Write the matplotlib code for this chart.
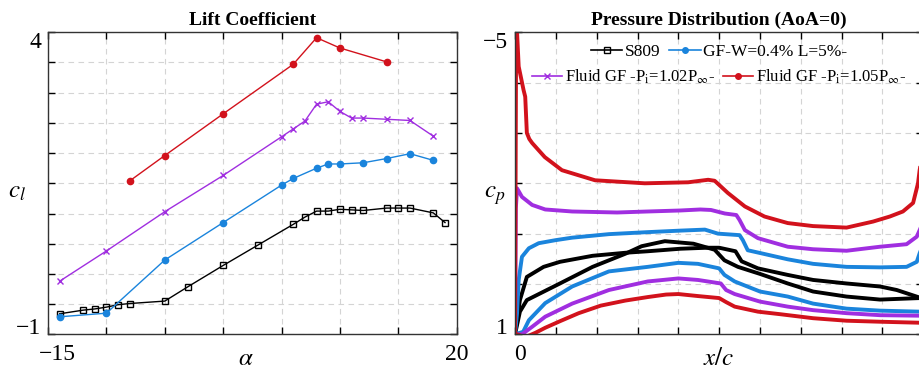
import numpy as np
import matplotlib
matplotlib.use("Agg")
import matplotlib.pyplot as plt
from matplotlib.lines import Line2D
from matplotlib.transforms import ScaledTranslation

plt.rcParams['font.family'] = ['Liberation Serif', 'DejaVu Serif']
plt.rcParams['mathtext.fontset'] = 'stix'

# colours
C_S809 = 'black'
C_GFW = '#1a84dc'
C_P102 = '#a02ee0'
C_P105 = '#d2121c'

# ---- lift coefficient data ----
alpha_s809 = [-14, -12, -11, -10, -9, -8, -5, -3, 0, 3, 6, 7, 8, 9, 10, 11, 12, 14, 15, 16, 18, 19]
cl_s809 = [-0.66, -0.60, -0.58, -0.55, -0.51, -0.49, -0.45, -0.21, 0.14, 0.48, 0.82, 0.94,
           1.04, 1.04, 1.07, 1.06, 1.05, 1.09, 1.09, 1.09, 1.01, 0.85]

alpha_gfw = [-14, -10, -5, 0, 5, 6, 8, 9, 10, 12, 14, 16, 18]
cl_gfw = [-0.71, -0.65, 0.23, 0.85, 1.47, 1.58, 1.75, 1.82, 1.82, 1.84, 1.91, 1.99, 1.88]

alpha_p102 = [-14, -10, -5, 0, 5, 6, 7, 8, 9, 10, 11, 12, 14, 16, 18]
cl_p102 = [-0.12, 0.38, 1.03, 1.63, 2.27, 2.40, 2.53, 2.81, 2.85, 2.69, 2.58, 2.58, 2.56, 2.54, 2.28]

alpha_p105 = [-8, -5, 0, 6, 8, 10, 14]
cl_p105 = [1.54, 1.96, 2.65, 3.47, 3.91, 3.74, 3.51]

# ---- pressure distribution data (AoA = 0) ----
s809_a_x = [0.0, 0.012, 0.029, 0.07, 0.11, 0.19, 0.27, 0.325, 0.405, 0.47, 0.50, 0.54, 0.555,
            0.595, 0.668, 0.73, 0.812, 0.894, 0.935, 0.991]
s809_a_cp = [1.0, 0.32, -0.14, -0.34, -0.44, -0.56, -0.62, -0.65, -0.70, -0.72, -0.72, -0.65, -0.45,
             -0.31, -0.18, -0.08, -0.01, 0.05, 0.12, 0.27]
s809_b_x = [0.0, 0.012, 0.029, 0.11, 0.19, 0.27, 0.31, 0.367, 0.437, 0.489, 0.513, 0.546,
            0.60, 0.668, 0.73, 0.812, 0.894, 0.991]
s809_b_cp = [1.0, 0.55, 0.32, -0.01, -0.34, -0.60, -0.75, -0.85, -0.80, -0.68, -0.47, -0.34,
             -0.20, -0.01, 0.15, 0.25, 0.31, 0.28]

gfw_up_x = [0.0, 0.005, 0.009, 0.017, 0.034, 0.058, 0.099, 0.14, 0.23, 0.325, 0.405, 0.465, 0.497,
            0.55, 0.558, 0.57, 0.603, 0.668, 0.73, 0.812, 0.894, 0.959, 0.984, 0.991, 0.998]
gfw_up_cp = [1.0, 0.58, -0.08, -0.54, -0.71, -0.81, -0.87, -0.92, -0.99, -1.03, -1.06, -1.08, -1.0,
             -0.97, -0.87, -0.67, -0.61, -0.49, -0.40, -0.34, -0.33, -0.34, -0.44, -0.61, -0.75]
gfw_lo_x = [0.0, 0.02, 0.034, 0.074, 0.14, 0.23, 0.325, 0.40, 0.448, 0.50, 0.513, 0.538,
            0.60, 0.668, 0.73, 0.812, 0.894, 0.991]
gfw_lo_cp = [1.0, 0.95, 0.72, 0.38, 0.05, -0.25, -0.34, -0.42, -0.40, -0.31, -0.18, -0.05,
             0.15, 0.25, 0.39, 0.49, 0.53, 0.55]

p102_up_x = [0.0, 0.002, 0.005, 0.017, 0.042, 0.074, 0.14, 0.25, 0.325, 0.405, 0.454, 0.48, 0.514,
             0.542, 0.55, 0.563, 0.595, 0.668, 0.73, 0.812, 0.894, 0.959, 0.984, 0.991, 0.998]
p102_up_cp = [1.0, -1.5, -1.90, -1.73, -1.57, -1.48, -1.44, -1.42, -1.44, -1.46, -1.48, -1.47, -1.40,
              -1.37, -1.27, -1.07, -0.91, -0.74, -0.69, -0.66, -0.74, -0.79, -0.94, -1.07, -1.2]
p102_lo_x = [0.0, 0.017, 0.042, 0.074, 0.14, 0.23, 0.325, 0.40, 0.448, 0.504, 0.517, 0.538,
             0.60, 0.668, 0.73, 0.812, 0.894, 0.991]
p102_lo_cp = [1.0, 1.0, 0.85, 0.65, 0.39, 0.12, -0.05, -0.11, -0.08, -0.01, 0.12, 0.20,
              0.35, 0.45, 0.52, 0.58, 0.62, 0.63]

p105_up_x = [0.0, 0.003, 0.005, 0.009, 0.021, 0.025, 0.029, 0.035, 0.042, 0.073, 0.115, 0.196,
             0.318, 0.424, 0.473, 0.489, 0.521, 0.563, 0.611, 0.668, 0.73, 0.812, 0.877, 0.918,
             0.95, 0.975, 0.987, 0.991, 0.998]
p105_up_cp = [1.0, -5.5, -5.0, -4.32, -3.85, -3.72, -3.0, -2.88, -2.8, -2.52, -2.26, -2.06,
              -2.0, -2.02, -2.07, -2.05, -1.81, -1.54, -1.34, -1.21, -1.15, -1.12, -1.24, -1.34,
              -1.44, -1.61, -2.0, -2.26, -2.6]
p105_lo_x = [0.005, 0.015, 0.03, 0.05, 0.074, 0.11, 0.156, 0.21, 0.27, 0.325, 0.37, 0.40, 0.448,
             0.50, 0.517, 0.538, 0.595, 0.649, 0.73, 0.812, 0.894, 0.991]
p105_lo_cp = [1.0, 1.03, 1.04, 0.97, 0.87, 0.74, 0.58, 0.43, 0.33, 0.26, 0.21, 0.20, 0.24,
              0.28, 0.36, 0.45, 0.55, 0.60, 0.68, 0.73, 0.75, 0.77]

LABELS = ['S809', 'GF-W=0.4% L=5%-',
          r'Fluid GF -P$_{\mathrm{i}}$=1.02P$_{\infty}$-',
          r'Fluid GF -P$_{\mathrm{i}}$=1.05P$_{\infty}$-']

TICK_FS = 17
TITLE_FS = 14


def style_axes(ax):
    ax.grid(True, ls=(0, (5, 4)), color='#d4d4d4', lw=0.8)
    ax.set_axisbelow(True)
    ax.tick_params(direction='in', top=True, right=True, length=5, width=1,
                   labelsize=TICK_FS)
    ax.tick_params(axis='x', pad=7)
    ax.tick_params(axis='y', pad=5)
    for s in ax.spines.values():
        s.set_color('#333333')
        s.set_linewidth(1.0)


def nudge(label, dx_px, dy_px):
    label.set_transform(label.get_transform() +
                        ScaledTranslation(dx_px / 100, dy_px / 100, fig.dpi_scale_trans))


fig = plt.figure(figsize=(9.2, 3.69), dpi=100)

# ---------- left: lift coefficient ----------
ax1 = fig.add_axes([0.0522, 0.094, 0.4442, 0.8185])
ax1.plot(alpha_s809, cl_s809, '-', color=C_S809, lw=1.0, marker='s', ms=4.5,
         mfc='none', mew=1.0)
ax1.plot(alpha_gfw, cl_gfw, '-', color=C_GFW, lw=1.0, marker='o', ms=4.5)
ax1.plot(alpha_p102, cl_p102, '-', color=C_P102, lw=1.0, marker='x', ms=4.5, mew=1.0)
ax1.plot(alpha_p105, cl_p105, '-', color=C_P105, lw=1.0, marker='o', ms=4.5)
ax1.set_xlim(-15, 20)
ax1.set_ylim(-1, 4)
ax1.set_xticks(np.arange(-15, 21, 5))
ax1.set_xticklabels(['\u221215', '', '', '', '', '', '', '20'])
ax1.set_yticks(np.arange(-1, 4.01, 0.5))
ax1.set_yticklabels(['\u22121'] + [''] * 9 + ['4'])
style_axes(ax1)
ylabs1 = ax1.get_yticklabels()
ylabs1[0].set_va('baseline')
ylabs1[-1].set_va('top')
nudge(ax1.get_xticklabels()[0], 9, 0)
ax1.set_title('Lift Coefficient', fontsize=TITLE_FS, fontweight='bold', pad=5)
ax1.set_xlabel(r'$\alpha$', fontsize=18)
ax1.xaxis.set_label_coords(0.485, -0.045)
ax1.set_ylabel(r'$c_l$', fontsize=18, rotation=0, va='center', ha='center')
ax1.yaxis.set_label_coords(-0.075, 0.47)

# ---------- right: pressure distribution ----------
ax2 = fig.add_axes([0.5598, 0.094, 0.4438, 0.8185])
for xs, cps, col in [(s809_a_x, s809_a_cp, C_S809), (s809_b_x, s809_b_cp, C_S809),
                     (gfw_up_x, gfw_up_cp, C_GFW), (gfw_lo_x, gfw_lo_cp, C_GFW),
                     (p102_up_x, p102_up_cp, C_P102), (p102_lo_x, p102_lo_cp, C_P102),
                     (p105_up_x, p105_up_cp, C_P105), (p105_lo_x, p105_lo_cp, C_P105)]:
    ax2.plot(xs, cps, '-', color=col, lw=2.8, solid_joinstyle='round')
ax2.set_xlim(0, 1)
ax2.set_ylim(1, -5)
ax2.set_xticks(np.arange(0, 1.01, 0.1))
ax2.set_xticklabels(['0'] + [''] * 9 + ['1'])
ax2.set_yticks(np.arange(-5, 1.01, 1))
ax2.set_yticklabels(['\u22125', '', '', '', '', '', '1'])
style_axes(ax2)
# inverted axis: first tick label is at the top
ylabs2 = ax2.get_yticklabels()
ylabs2[0].set_va('top')
ylabs2[-1].set_va('baseline')
nudge(ax2.get_xticklabels()[0], 5, 0)
ax2.set_title('Pressure Distribution (AoA=0)', fontsize=TITLE_FS, fontweight='bold', pad=5)
ax2.set_xlabel(r'$x/c$', fontsize=18)
ax2.xaxis.set_label_coords(0.5, -0.045)
ax2.set_ylabel(r'$c_p$', fontsize=18, rotation=0, va='center', ha='center')
ax2.yaxis.set_label_coords(-0.05, 0.46)

h_s809 = Line2D([], [], color=C_S809, lw=1.2, marker='s', ms=4, mfc='none')
h_gfw = Line2D([], [], color=C_GFW, lw=1.2, marker='o', ms=4)
h_p102 = Line2D([], [], color=C_P102, lw=1.2, marker='x', ms=4)
h_p105 = Line2D([], [], color=C_P105, lw=1.2, marker='o', ms=4)

leg_kw = dict(ncol=2, loc='center', frameon=False,
              handlelength=1.8, handletextpad=0.15, columnspacing=0.5,
              borderaxespad=0, borderpad=0)
leg1 = ax2.legend([h_s809, h_gfw], LABELS[:2], bbox_to_anchor=(0.5, 0.935),
                  fontsize=12.5, **leg_kw)
ax2.add_artist(leg1)
ax2.legend([h_p102, h_p105], LABELS[2:], bbox_to_anchor=(0.5, 0.852),
           fontsize=12, **leg_kw)

fig.savefig('out.png', dpi=100)
